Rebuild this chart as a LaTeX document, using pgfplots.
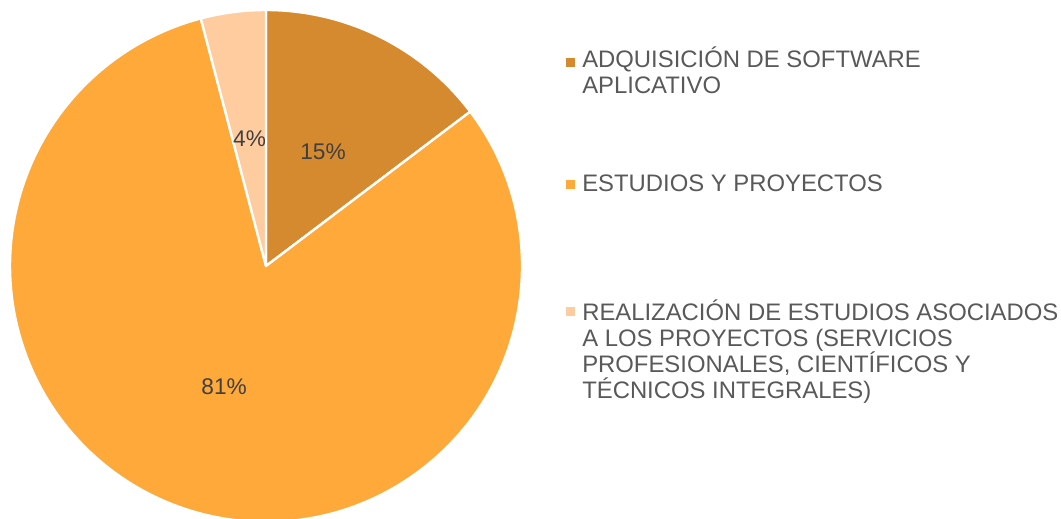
\documentclass[border=0pt]{standalone}
\usepackage{pgfplots}
\pgfplotsset{compat=1.18}
\usepackage{pgfplotstable}
\usepackage{fontspec}
\setmainfont{Liberation Sans}
\definecolor{c1}{RGB}{213,138,48}
\definecolor{c2}{RGB}{254,169,58}
\definecolor{c3}{RGB}{255,204,160}
\definecolor{legtext}{RGB}{89,89,89}
\definecolor{labtext}{RGB}{64,64,64}
\pgfplotstableread{
value
14.7
81.2
4.1
}\piedata
\begin{document}
\begin{tikzpicture}
\useasboundingbox (0,0) rectangle (795.75pt,-388.5pt);
\pgfplotstablegetelem{0}{value}\of\piedata \pgfmathsetmacro\va{\pgfplotsretval}
\pgfplotstablegetelem{1}{value}\of\piedata \pgfmathsetmacro\vb{\pgfplotsretval}
\pgfplotstablegetelem{2}{value}\of\piedata \pgfmathsetmacro\vc{\pgfplotsretval}
\pgfmathsetmacro\angA{90-3.6*\va}
\pgfmathsetmacro\angB{\angA-3.6*\vb}
\pgfmathsetmacro\angC{\angB-3.6*\vc}
\pgfmathsetmacro\midA{(90+\angA)/2}
\pgfmathsetmacro\midB{(\angA+\angB)/2}
\pgfmathsetmacro\midC{(\angB+\angC)/2}
\pgfmathsetmacro\xA{cos(\angA)}\pgfmathsetmacro\yA{sin(\angA)}
\pgfmathsetmacro\xB{cos(\angB)}\pgfmathsetmacro\yB{sin(\angB)}
\pgfmathsetmacro\lxA{0.5*cos(\midA)}\pgfmathsetmacro\lyA{0.5*sin(\midA)}
\pgfmathsetmacro\lxB{0.5*cos(\midB)}\pgfmathsetmacro\lyB{0.5*sin(\midB)}
\pgfmathsetmacro\lxC{0.5*cos(\midC)}\pgfmathsetmacro\lyC{0.5*sin(\midC)}
\begin{axis}[at={(199.5pt,-199.5pt)}, anchor=center, width=384pt, height=384pt,
  scale only axis, xmin=-1, xmax=1, ymin=-1, ymax=1, hide axis, clip=false]
\filldraw[fill=c1, draw=white, line width=1.8pt, line join=round] (axis cs:0,0) -- (axis cs:0,1) arc[start angle=90, end angle=\angA, radius=1] -- cycle;
\filldraw[fill=c2, draw=white, line width=1.8pt, line join=round] (axis cs:0,0) -- (axis cs:\xA,\yA) arc[start angle=\angA, end angle=\angB, radius=1] -- cycle;
\filldraw[fill=c3, draw=white, line width=1.8pt, line join=round] (axis cs:0,0) -- (axis cs:\xB,\yB) arc[start angle=\angB, end angle=\angC, radius=1] -- cycle;
\node[text=labtext, font=\fontsize{17}{20}\selectfont] at (axis cs:\lxA,\lyA) {15\%};
\node[text=labtext, font=\fontsize{17}{20}\selectfont] at (axis cs:\lxB,\lyB) {81\%};
\node[text=labtext, font=\fontsize{17}{20}\selectfont] at (axis cs:\lxC,\lyC) {4\%};
\end{axis}
\begin{scope}[x=0.75pt,y=-0.75pt,every node/.style={anchor=base west, inner sep=0pt, text=legtext, font=\fontsize{17.9}{20}\selectfont}]
\fill[c1] (565.5,57.5) rectangle (574.5,66.5);
\node at (582,67.3) {ADQUISICIÓN DE SOFTWARE};
\node at (582,93) {APLICATIVO};
\fill[c2] (565.5,179.5) rectangle (574.5,188.5);
\node at (582,191.7) {ESTUDIOS Y PROYECTOS};
\fill[c3] (565.5,306.5) rectangle (574.5,315.5);
\node at (582,320.7) {REALIZACIÓN DE ESTUDIOS ASOCIADOS};
\node at (582,346.7) {A LOS PROYECTOS (SERVICIOS};
\node at (582,372.7) {PROFESIONALES, CIENTÍFICOS Y};
\node at (582,398.7) {TÉCNICOS INTEGRALES)};
\end{scope}
\end{tikzpicture}
\end{document}
